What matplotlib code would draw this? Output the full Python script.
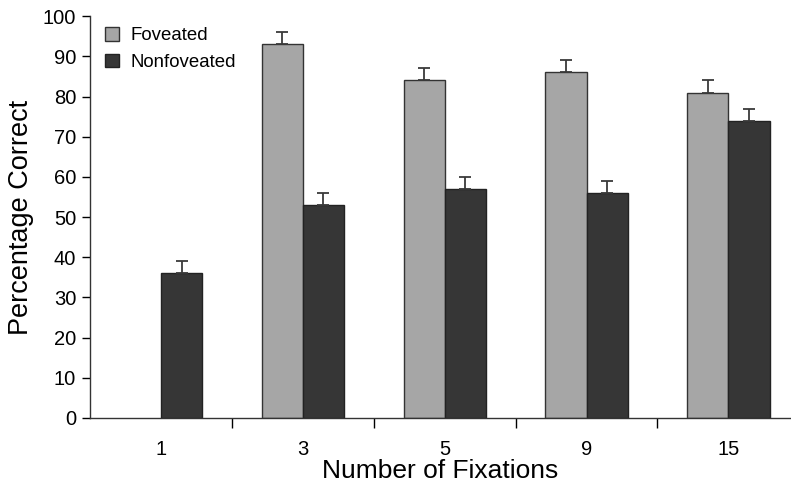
import numpy as np
import matplotlib
matplotlib.use("Agg")
import matplotlib.pyplot as plt

plt.rcParams['font.family'] = ['Liberation Sans', 'DejaVu Sans']

fixations = ["1", "3", "5", "9", "15"]
foveated = [np.nan, 93, 84, 86, 81]
foveated_err = [0, 3, 3, 3, 3]
nonfoveated = [36, 53, 57, 56, 74]
nonfoveated_err = [3, 3, 3, 3, 3]

x = np.arange(len(fixations))
w = 0.29

fig = plt.figure(figsize=(7.91, 4.90), dpi=100)
ax = fig.add_axes([0.1138, 0.147, 0.886, 0.820])

errkw = dict(ecolor="#3a3a3a", elinewidth=1.3, capsize=4, capthick=1.3)
fv = np.array(foveated, dtype=float)
mask = ~np.isnan(fv)
ax.bar(x[mask] - w / 2, fv[mask], w, color="#a6a6a6", edgecolor="#333333",
       linewidth=1.0, label="Foveated",
       yerr=[np.zeros(mask.sum()), np.array(foveated_err)[mask]], error_kw=errkw)
ax.bar(x + w / 2, nonfoveated, w, color="#363636", edgecolor="#222222",
       linewidth=1.0, label="Nonfoveated",
       yerr=[np.zeros(len(x)), nonfoveated_err], error_kw=errkw)

ax.set_xlim(-0.5, 4.44)
ax.set_ylim(0, 100)
ax.set_yticks(np.arange(0, 101, 10))
ax.set_xticks(x)
ax.set_xticklabels(fixations)
ax.set_xticks(np.arange(0.5, 4, 1), minor=True)
ax.tick_params(axis="x", which="major", length=0, pad=16, labelsize=14.5)
ax.tick_params(axis="x", which="minor", length=7, width=1, direction="out")
ax.tick_params(axis="y", length=6, width=1, direction="out", labelsize=14.5, pad=4)

for s in ["top", "right"]:
    ax.spines[s].set_visible(False)
for s in ["left", "bottom"]:
    ax.spines[s].set_color("#333333")
    ax.spines[s].set_linewidth(1)

ax.set_xlabel("Number of Fixations", fontsize=19, labelpad=0)
ax.set_ylabel("Percentage Correct", fontsize=19.5, labelpad=6)

ax.legend(loc="upper left", frameon=False, fontsize=13.4, handlelength=0.75,
          handleheight=0.75, handletextpad=0.6, borderaxespad=0.3,
          bbox_to_anchor=(0.003, 1.005), labelspacing=0.5)

fig.savefig("out.png", dpi=100)
